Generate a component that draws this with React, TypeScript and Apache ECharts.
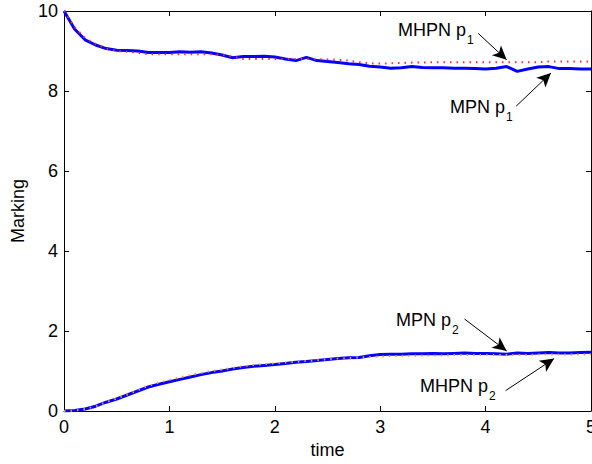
import React, { useEffect, useRef } from "react";
import * as echarts from "echarts";

const TIME = [
  0, 0.1, 0.2, 0.3, 0.4, 0.5, 0.6, 0.7, 0.8, 0.9,
  1.0, 1.1, 1.2, 1.3, 1.4, 1.5, 1.6, 1.7, 1.8, 1.9,
  2.0, 2.1, 2.2, 2.3, 2.4, 2.5, 2.6, 2.7, 2.8, 2.9,
  3.0, 3.1, 3.2, 3.3, 3.4, 3.5, 3.6, 3.7, 3.8, 3.9,
  4.0, 4.1, 4.2, 4.3, 4.4, 4.5, 4.6, 4.7, 4.8, 4.9, 5.0,
];

const MPN_P1 = [
  10.0, 9.55, 9.28, 9.15, 9.06, 9.02, 9.01, 9.0, 8.96, 8.96,
  8.96, 8.98, 8.97, 8.98, 8.95, 8.9, 8.83, 8.86, 8.86, 8.87,
  8.85, 8.8, 8.76, 8.84, 8.76, 8.74, 8.71, 8.68, 8.66, 8.62,
  8.6, 8.57, 8.58, 8.61, 8.59, 8.58, 8.58, 8.57, 8.57, 8.56,
  8.55, 8.57, 8.61, 8.49, 8.55, 8.6, 8.61, 8.56, 8.56, 8.55, 8.55,
];

const MHPN_P1 = [
  10.0, 9.6, 9.32, 9.18, 9.06, 9.0, 8.98, 8.95, 8.92, 8.92,
  8.92, 8.92, 8.92, 8.92, 8.92, 8.9, 8.86, 8.8, 8.8, 8.8,
  8.8, 8.8, 8.8, 8.8, 8.8, 8.79, 8.78, 8.76, 8.72, 8.69,
  8.69, 8.69, 8.7, 8.71, 8.71, 8.72, 8.72, 8.72, 8.72, 8.72,
  8.72, 8.72, 8.72, 8.72, 8.72, 8.72, 8.74, 8.74, 8.74, 8.74, 8.74,
];

const MPN_P2 = [
  0.0, 0.01, 0.05, 0.12, 0.22, 0.3, 0.4, 0.5, 0.6, 0.67,
  0.73, 0.79, 0.85, 0.91, 0.96, 1.0, 1.05, 1.09, 1.12, 1.14,
  1.16, 1.19, 1.22, 1.24, 1.26, 1.29, 1.31, 1.33, 1.34, 1.38,
  1.41, 1.42, 1.42, 1.43, 1.43, 1.44, 1.43, 1.44, 1.45, 1.44,
  1.44, 1.43, 1.42, 1.45, 1.44, 1.45, 1.46, 1.45, 1.45, 1.46, 1.47,
];

const MHPN_P2 = [
  0.0, 0.01, 0.05, 0.12, 0.22, 0.31, 0.41, 0.52, 0.63, 0.71,
  0.78, 0.84, 0.9, 0.95, 1.0, 1.04, 1.08, 1.12, 1.15, 1.17,
  1.19, 1.21, 1.23, 1.25, 1.27, 1.29, 1.31, 1.32, 1.34, 1.35,
  1.36, 1.37, 1.38, 1.38, 1.39, 1.39, 1.39, 1.4, 1.4, 1.4,
  1.4, 1.4, 1.4, 1.4, 1.4, 1.41, 1.41, 1.41, 1.41, 1.41, 1.41,
];

const X_AXIS = { min: 0, max: 5, interval: 1, name: "time" };
const Y_AXIS = { min: 0, max: 10, interval: 2, name: "Marking" };

const ANNOT_TEXT = [
  { main: "MHPN p", sub: "1" },
  { main: "MPN p", sub: "1" },
  { main: "MPN p", sub: "2" },
  { main: "MHPN p", sub: "2" },
];

// arrow start / end in data coordinates [time, marking]
const ARROW_FROM = [
  [3.93, 9.44],
  [4.29, 7.62],
  [3.8, 2.3],
  [4.19, 0.51],
];
const ARROW_TO = [
  [4.2, 8.78],
  [4.62, 8.45],
  [4.2, 1.5],
  [4.65, 1.31],
];

const FONT = "'Liberation Sans', Arial, Helvetica, sans-serif";

function pairs(ys: number[]) {
  return TIME.map((t, i) => [t, ys[i]]);
}

export default function App() {
  const ref = useRef<HTMLDivElement>(null);

  useEffect(() => {
    if (!ref.current) return;
    const chart = echarts.init(ref.current, undefined, { renderer: "svg" });

    const textPos = [
      [398, 21],
      [450, 98],
      [396, 311],
      [420, 377],
    ];

    const axisCommon = {
      axisLine: { show: true, onZero: false, lineStyle: { color: "#000", width: 1 } },
      axisTick: { show: true, inside: true, length: 5, lineStyle: { color: "#000", width: 1 } },
      splitLine: { show: false },
    };

    const option: any = {
      animation: false,
      backgroundColor: "#fff",
      grid: {
        left: 64,
        right: 1,
        top: 11,
        bottom: 53,
        containLabel: false,
        outerBoundsMode: "none",
      },
      xAxis: [
        {
          type: "value",
          min: X_AXIS.min,
          max: X_AXIS.max,
          interval: X_AXIS.interval,
          position: "bottom",
          name: X_AXIS.name,
          nameLocation: "middle",
          nameGap: 28,
          nameTextStyle: { color: "#000", fontSize: 18, fontFamily: FONT },
          axisLabel: { color: "#000", fontSize: 18, fontFamily: FONT, margin: 7 },
          ...axisCommon,
        },
        {
          type: "value",
          min: X_AXIS.min,
          max: X_AXIS.max,
          interval: X_AXIS.interval,
          position: "top",
          axisLabel: { show: false },
          ...axisCommon,
        },
      ],
      yAxis: [
        {
          type: "value",
          min: Y_AXIS.min,
          max: Y_AXIS.max,
          interval: Y_AXIS.interval,
          position: "left",
          name: Y_AXIS.name,
          nameLocation: "middle",
          nameGap: 31,
          nameTextStyle: { color: "#000", fontSize: 18, fontFamily: FONT },
          axisLabel: { color: "#000", fontSize: 18, fontFamily: FONT, margin: 6 },
          ...axisCommon,
        },
        {
          type: "value",
          min: Y_AXIS.min,
          max: Y_AXIS.max,
          interval: Y_AXIS.interval,
          position: "right",
          axisLabel: { show: false },
          ...axisCommon,
        },
      ],
      series: [
        {
          name: "MPN p1",
          type: "line",
          data: pairs(MPN_P1),
          showSymbol: false,
          symbol: "none",
          lineStyle: { color: "#0000ff", width: 3 },
          z: 2,
          silent: true,
          markLine: {
            silent: true,
            symbol: ["none", "arrow"],
            symbolSize: [10, 14],
            label: { show: false },
            lineStyle: { color: "#000", width: 1, type: "solid" },
            itemStyle: { color: "#000" },
            data: ARROW_FROM.map((f, i) => [{ coord: f }, { coord: ARROW_TO[i] }]),
          },
        },
        {
          name: "MHPN p1",
          type: "line",
          data: pairs(MHPN_P1),
          showSymbol: false,
          symbol: "none",
          lineStyle: { color: "#ff2a2a", width: 2, type: [1.5, 5] },
          z: 3,
          silent: true,
        },
        {
          name: "MPN p2",
          type: "line",
          data: pairs(MPN_P2),
          showSymbol: false,
          symbol: "none",
          lineStyle: { color: "#0000ff", width: 3 },
          z: 2,
          silent: true,
        },
        {
          name: "MHPN p2",
          type: "line",
          data: pairs(MHPN_P2),
          showSymbol: false,
          symbol: "none",
          lineStyle: { color: "#f59a20", width: 2, type: [1.5, 5] },
          z: 3,
          silent: true,
        },
      ],
      graphic: ANNOT_TEXT.map((a, i) => ({
        type: "text",
        x: textPos[i][0],
        y: textPos[i][1],
        silent: true,
        style: {
          text: `{m|${a.main}}{s|${a.sub}}`,
          fill: "#000",
          font: `18px ${FONT}`,
          rich: {
            m: { fontSize: 18, lineHeight: 18, verticalAlign: "top", fontFamily: FONT, fill: "#000" },
            s: {
              fontSize: 12,
              lineHeight: 12,
              verticalAlign: "top",
              fontFamily: FONT,
              fill: "#000",
              padding: [13, 0, 0, 1],
            },
          },
        },
      })),
    };

    chart.setOption(option);
    return () => chart.dispose();
  }, []);

  return (
    <div
      ref={ref}
      style={{ position: "fixed", left: 0, top: 0, width: 592, height: 464, background: "#fff" }}
    />
  );
}
